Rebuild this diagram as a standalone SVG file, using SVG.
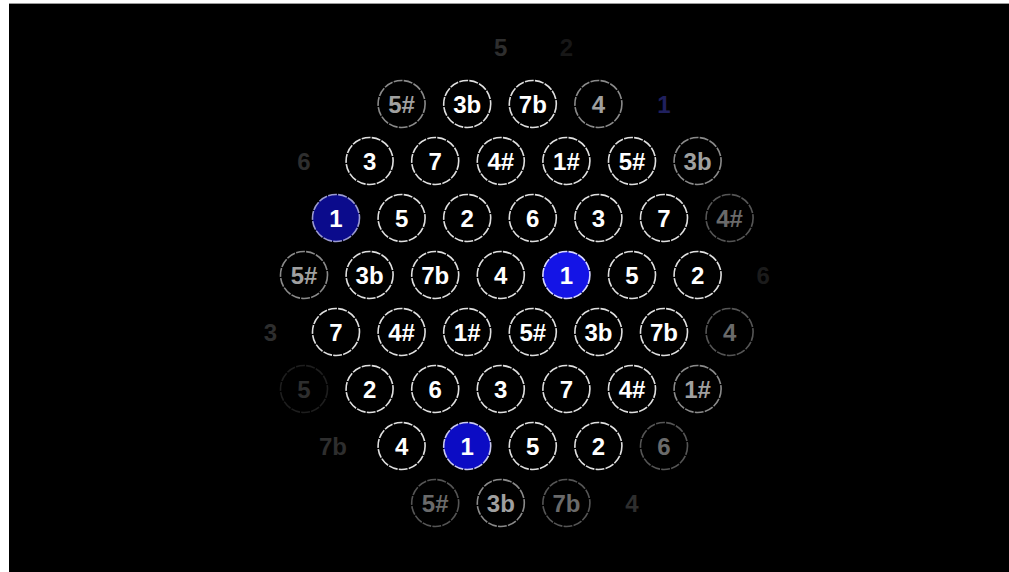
<svg xmlns="http://www.w3.org/2000/svg" width="1009" height="572" viewBox="0 0 1009 572">
<style>
.c{fill:#000;stroke:#e0e0e0;stroke-width:1.6;stroke-dasharray:9 1.2}
.t{font-family:"Liberation Sans",Arial,sans-serif;font-weight:bold;font-size:24px;text-anchor:middle;fill:#fff}
.d .c{stroke:#8a8a8a}
.d .t{fill:#a0a0a0}
.e .c{stroke:#555}
.e .t{fill:#6a6a6a}
.f .c{stroke:#1e1e1e}
.f .t{fill:#2e2e2e}
.b1 .c{fill:#1414e6;stroke:#d8d8ff}
.b2 .c{fill:#0b0b8c;stroke:#9a9ad0}
.b3 .c{fill:#0c0cc4;stroke:#c8c8f0}
.bf .c{fill:none;stroke:none}
.bf .t{fill:#20205e}
</style>
<rect x="0" y="0" width="1009" height="572" fill="#fff"/>
<rect x="9" y="3" width="1000" height="569" fill="#000"/>
<rect x="9" y="3" width="1000" height="1" fill="#9a9a9a"/>
<g id="connectors"/>
<!-- row 0 -->
<g id="n0a" class="f"><text class="t" x="500.8" y="55.5">5</text></g>
<g id="n0b" class="f"><text class="t" x="566.4" y="55.5" fill-opacity="0.5">2</text></g>
<!-- row 1 -->
<g id="n1a" class="d"><circle class="c" cx="401.6" cy="104" r="23.5"/><text class="t" x="401.6" y="112.5">5#</text></g>
<g id="n1b"><circle class="c" cx="467.2" cy="104" r="23.5"/><text class="t" x="467.2" y="112.5">3b</text></g>
<g id="n1c"><circle class="c" cx="532.8" cy="104" r="23.5"/><text class="t" x="532.8" y="112.5">7b</text></g>
<g id="n1d" class="d"><circle class="c" cx="598.4" cy="104" r="23.5"/><text class="t" x="598.4" y="112.5">4</text></g>
<g id="n1e" class="bf"><text class="t" x="664" y="112.5">1</text></g>
<!-- row 2 -->
<g id="n2a" class="f"><text class="t" x="304" y="169.5">6</text></g>
<g id="n2b"><circle class="c" cx="369.6" cy="161" r="23.5"/><text class="t" x="369.6" y="169.5">3</text></g>
<g id="n2c"><circle class="c" cx="435.2" cy="161" r="23.5"/><text class="t" x="435.2" y="169.5">7</text></g>
<g id="n2d"><circle class="c" cx="500.8" cy="161" r="23.5"/><text class="t" x="500.8" y="169.5">4#</text></g>
<g id="n2e"><circle class="c" cx="566.4" cy="161" r="23.5"/><text class="t" x="566.4" y="169.5">1#</text></g>
<g id="n2f"><circle class="c" cx="632" cy="161" r="23.5"/><text class="t" x="632" y="169.5">5#</text></g>
<g id="n2g" class="d"><circle class="c" cx="697.6" cy="161" r="23.5"/><text class="t" x="697.6" y="169.5">3b</text></g>
<!-- row 3 -->
<g id="n3a" class="b2"><circle class="c" cx="336" cy="218" r="23.5"/><text class="t" x="336" y="226.5">1</text></g>
<g id="n3b"><circle class="c" cx="401.6" cy="218" r="23.5"/><text class="t" x="401.6" y="226.5">5</text></g>
<g id="n3c"><circle class="c" cx="467.2" cy="218" r="23.5"/><text class="t" x="467.2" y="226.5">2</text></g>
<g id="n3d"><circle class="c" cx="532.8" cy="218" r="23.5"/><text class="t" x="532.8" y="226.5">6</text></g>
<g id="n3e"><circle class="c" cx="598.4" cy="218" r="23.5"/><text class="t" x="598.4" y="226.5">3</text></g>
<g id="n3f"><circle class="c" cx="664" cy="218" r="23.5"/><text class="t" x="664" y="226.5">7</text></g>
<g id="n3g" class="e"><circle class="c" cx="729.6" cy="218" r="23.5" stroke-dasharray="3 6"/><text class="t" x="729.6" y="226.5">4#</text></g>
<!-- row 4 -->
<g id="n4a" class="d"><circle class="c" cx="304" cy="275" r="23.5"/><text class="t" x="304" y="283.5">5#</text></g>
<g id="n4b"><circle class="c" cx="369.6" cy="275" r="23.5"/><text class="t" x="369.6" y="283.5">3b</text></g>
<g id="n4c"><circle class="c" cx="435.2" cy="275" r="23.5"/><text class="t" x="435.2" y="283.5">7b</text></g>
<g id="n4d"><circle class="c" cx="500.8" cy="275" r="23.5"/><text class="t" x="500.8" y="283.5">4</text></g>
<g id="n4e" class="b1"><circle class="c" cx="566.4" cy="275" r="23.5"/><text class="t" x="566.4" y="283.5">1</text></g>
<g id="n4f"><circle class="c" cx="632" cy="275" r="23.5"/><text class="t" x="632" y="283.5">5</text></g>
<g id="n4g"><circle class="c" cx="697.6" cy="275" r="23.5"/><text class="t" x="697.6" y="283.5">2</text></g>
<g id="n4h" class="f"><text class="t" x="763.2" y="283.5" fill-opacity="0.6">6</text></g>
<!-- row 5 -->
<g id="n5a" class="f"><text class="t" x="270.4" y="340.5">3</text></g>
<g id="n5b"><circle class="c" cx="336" cy="332" r="23.5"/><text class="t" x="336" y="340.5">7</text></g>
<g id="n5c"><circle class="c" cx="401.6" cy="332" r="23.5"/><text class="t" x="401.6" y="340.5">4#</text></g>
<g id="n5d"><circle class="c" cx="467.2" cy="332" r="23.5"/><text class="t" x="467.2" y="340.5">1#</text></g>
<g id="n5e"><circle class="c" cx="532.8" cy="332" r="23.5"/><text class="t" x="532.8" y="340.5">5#</text></g>
<g id="n5f"><circle class="c" cx="598.4" cy="332" r="23.5"/><text class="t" x="598.4" y="340.5">3b</text></g>
<g id="n5g"><circle class="c" cx="664" cy="332" r="23.5"/><text class="t" x="664" y="340.5">7b</text></g>
<g id="n5h" class="e"><circle class="c" cx="729.6" cy="332" r="23.5"/><text class="t" x="729.6" y="340.5">4</text></g>
<!-- row 6 -->
<g id="n6a" class="f"><circle class="c" cx="304" cy="389" r="23.5" stroke-dasharray="4 8"/><text class="t" x="304" y="397.5" fill="#4a4a4a">5</text></g>
<g id="n6b"><circle class="c" cx="369.6" cy="389" r="23.5"/><text class="t" x="369.6" y="397.5">2</text></g>
<g id="n6c"><circle class="c" cx="435.2" cy="389" r="23.5"/><text class="t" x="435.2" y="397.5">6</text></g>
<g id="n6d"><circle class="c" cx="500.8" cy="389" r="23.5"/><text class="t" x="500.8" y="397.5">3</text></g>
<g id="n6e"><circle class="c" cx="566.4" cy="389" r="23.5"/><text class="t" x="566.4" y="397.5">7</text></g>
<g id="n6f"><circle class="c" cx="632" cy="389" r="23.5"/><text class="t" x="632" y="397.5">4#</text></g>
<g id="n6g" class="d"><circle class="c" cx="697.6" cy="389" r="23.5"/><text class="t" x="697.6" y="397.5">1#</text></g>
<!-- row 7 -->
<g id="n7a" class="f"><text class="t" x="333" y="454.5" fill="#4a4a4a">7b</text></g>
<g id="n7b"><circle class="c" cx="401.6" cy="446" r="23.5"/><text class="t" x="401.6" y="454.5">4</text></g>
<g id="n7c" class="b3"><circle class="c" cx="467.2" cy="446" r="23.5"/><text class="t" x="467.2" y="454.5">1</text></g>
<g id="n7d"><circle class="c" cx="532.8" cy="446" r="23.5"/><text class="t" x="532.8" y="454.5">5</text></g>
<g id="n7e"><circle class="c" cx="598.4" cy="446" r="23.5"/><text class="t" x="598.4" y="454.5">2</text></g>
<g id="n7f" class="e"><circle class="c" cx="664" cy="446" r="23.5"/><text class="t" x="664" y="454.5">6</text></g>
<!-- row 8 -->
<g id="n8a" class="e"><circle class="c" cx="435.2" cy="503" r="23.5"/><text class="t" x="435.2" y="511.5">5#</text></g>
<g id="n8b" class="d"><circle class="c" cx="500.8" cy="503" r="23.5"/><text class="t" x="500.8" y="511.5">3b</text></g>
<g id="n8c" class="e"><circle class="c" cx="566.4" cy="503" r="23.5"/><text class="t" x="566.4" y="511.5">7b</text></g>
<g id="n8d" class="f"><text class="t" x="632" y="511.5">4</text></g>
</svg>
